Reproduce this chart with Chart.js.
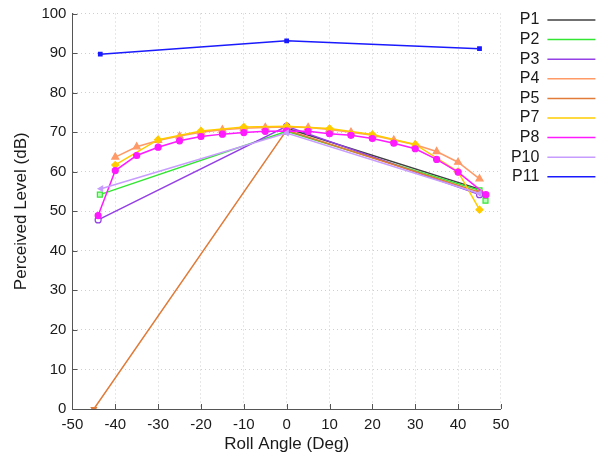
<!DOCTYPE html>
<html>
<head>
<meta charset="utf-8">
<script src="https://cdn.jsdelivr.net/npm/chart.js@4/dist/chart.umd.min.js"></script>
<style>
  html, body { margin: 0; padding: 0; background: #fff; }
  #wrap { width: 605px; height: 460px; position: relative; }
</style>
</head>
<body>
<div id="wrap"><canvas id="chart"></canvas></div>
<script>
// Roll angle vs perceived level, one series per participant.
const SERIES_NAMES = ['P1', 'P2', 'P3', 'P4', 'P5', 'P7', 'P8', 'P10', 'P11'];

const P1 = [[0, 71.0], [45, 55.6]];
const P2 = [[-43.6, 54.2], [0, 70.2], [45, 55.3], [46.4, 52.7]];
const P3 = [[-44, 47.8], [0, 71.5], [45, 54.2]];
const P4 = [[-40, 63.7], [-35, 66.3], [-30, 67.9], [-25, 69.0], [-20, 70.0], [-15, 70.6], [-10, 71.0],
            [-5, 71.2], [0, 71.3], [5, 71.2], [10, 70.7], [15, 70.0], [20, 69.2], [25, 68.0],
            [30, 66.8], [35, 65.1], [40, 62.4], [45, 58.2]];
const P5 = [[-45, 0], [0, 70.5], [45, 54.8]];
const P7 = [[-40, 61.7], [-30, 68.1], [-20, 70.3], [-10, 71.3], [0, 71.5], [10, 70.9], [20, 69.4],
            [30, 66.9], [40, 60.0], [45, 50.4]];
const P8 = [[-44, 48.9], [-40, 60.3], [-35, 64.1], [-30, 66.2], [-25, 67.8], [-20, 68.9], [-15, 69.5],
            [-10, 69.9], [-5, 70.2], [0, 70.3], [5, 70.2], [10, 69.6], [15, 69.2], [20, 68.4],
            [25, 67.2], [30, 65.8], [35, 63.1], [40, 59.9], [46.5, 54.2]];
const P10 = [[-43.3, 55.7], [0, 69.8], [45, 54.5]];
const P11 = [[-43.5, 89.7], [0, 93.1], [45, 91.1]];

const X_TICKS = [-50, -40, -30, -20, -10, 0, 10, 20, 30, 40, 50];
const Y_TICKS = [0, 10, 20, 30, 40, 50, 60, 70, 80, 90, 100];

const SERIES_DATA = [P1, P2, P3, P4, P5, P7, P8, P10, P11];
const COLORS = ['#404040', '#33e633', '#9440e6', '#ff9966', '#e07b39', '#ffcc00', '#ff1aff', '#c79cff', '#1a1aff'];
const MARKERS = [
  { pointStyle: 'crossRot', pointRadius: 0 },
  { pointStyle: 'rect', pointRadius: 3.5, fill: '#b8ffb8' },
  { pointStyle: 'circle', pointRadius: 3, fill: '#ffffff' },
  { pointStyle: 'triangle', pointRadius: 4 },
  { pointStyle: 'triangle', pointRadius: 3, rotation: 180 },
  { pointStyle: 'rectRot', pointRadius: 3.5 },
  { pointStyle: 'circle', pointRadius: 3 },
  { pointStyle: 'triangle', pointRadius: 3, rotation: -90 },
  { pointStyle: 'rect', pointRadius: 2.5 },
];

const FONT = "'Liberation Sans', Arial, sans-serif";
const TEXT = '#1a1a1a';

// gnuplot-style ticks drawn inward from the left and bottom axes
const innerTicks = {
  id: 'innerTicks',
  afterDatasetsDraw(chart) {
    const { ctx, chartArea, scales } = chart;
    ctx.save();
    ctx.strokeStyle = '#555';
    ctx.lineWidth = 1;
    ctx.beginPath();
    X_TICKS.forEach(v => {
      const x = Math.round(scales.x.getPixelForValue(v)) + 0.5;
      ctx.moveTo(x, chartArea.bottom);
      ctx.lineTo(x, chartArea.bottom - 5);
    });
    Y_TICKS.forEach(v => {
      const y = Math.round(scales.y.getPixelForValue(v)) + 0.5;
      ctx.moveTo(chartArea.left, y);
      ctx.lineTo(chartArea.left + 5, y);
    });
    ctx.stroke();
    ctx.restore();
  },
};

const datasets = SERIES_NAMES.map((name, i) => ({
  label: name,
  data: SERIES_DATA[i].map(([x, y]) => ({ x, y })),
  borderColor: COLORS[i],
  backgroundColor: MARKERS[i].fill || COLORS[i],
  pointBorderColor: COLORS[i],
  pointBackgroundColor: MARKERS[i].fill || COLORS[i],
  borderWidth: 1.5,
  pointBorderWidth: 1.2,
  pointStyle: MARKERS[i].pointStyle,
  pointRadius: MARKERS[i].pointRadius,
  pointRotation: MARKERS[i].rotation || 0,
  tension: 0,
  order: -i, // later series on top, like the original
}));

new Chart(document.getElementById('chart'), {
  type: 'line',
  data: { datasets },
  plugins: [innerTicks],
  options: {
    responsive: true,
    maintainAspectRatio: false,
    animation: false,
    layout: { padding: { top: 0, right: 6, left: 7, bottom: 1 } },
    plugins: {
      tooltip: { enabled: false },
      legend: {
        position: 'right',
        align: 'start',
        rtl: true,
        title: { display: true, text: '', padding: 0, font: { size: 7 } },
        labels: {
          color: TEXT,
          font: { family: FONT, size: 16 },
          usePointStyle: true,
          pointStyle: 'line',
          pointStyleWidth: 48,
          boxHeight: 2,
          padding: 3.6,
          sort: (a, b) => a.datasetIndex - b.datasetIndex,
          generateLabels: chart => chart.data.datasets.map((ds, i) => ({
            text: ds.label,
            datasetIndex: i,
            strokeStyle: COLORS[i],
            fillStyle: COLORS[i],
            fontColor: TEXT,
            lineWidth: 1.5,
            pointStyle: 'line',
            rotation: 0,
            hidden: false,
          })),
        },
      },
    },
    scales: {
      x: {
        type: 'linear',
        min: -50,
        max: 50,
        afterBuildTicks: s => { s.ticks = X_TICKS.map(v => ({ value: v })); },
        ticks: { color: TEXT, font: { family: FONT, size: 15 }, padding: 7, maxRotation: 0 },
        grid: { color: '#cfcfcf', drawTicks: false },
        border: { color: '#555', width: 1, dash: [1, 3] },
        title: { display: true, text: 'Roll Angle (Deg)', color: TEXT, font: { family: FONT, size: 17, lineHeight: 1 }, padding: { top: -5, bottom: 6 } },
      },
      y: {
        min: 0,
        max: 100,
        afterBuildTicks: s => { s.ticks = Y_TICKS.map(v => ({ value: v })); },
        ticks: { color: TEXT, font: { family: FONT, size: 15, lineHeight: 1 }, padding: 6 },
        grid: { color: '#cfcfcf', drawTicks: false },
        border: { color: '#555', width: 1, dash: [1, 3] },
        title: { display: true, text: 'Perceived Level (dB)', color: TEXT, font: { family: FONT, size: 17 }, padding: { top: 4, bottom: 4 } },
      },
    },
  },
});
</script>
</body>
</html>
